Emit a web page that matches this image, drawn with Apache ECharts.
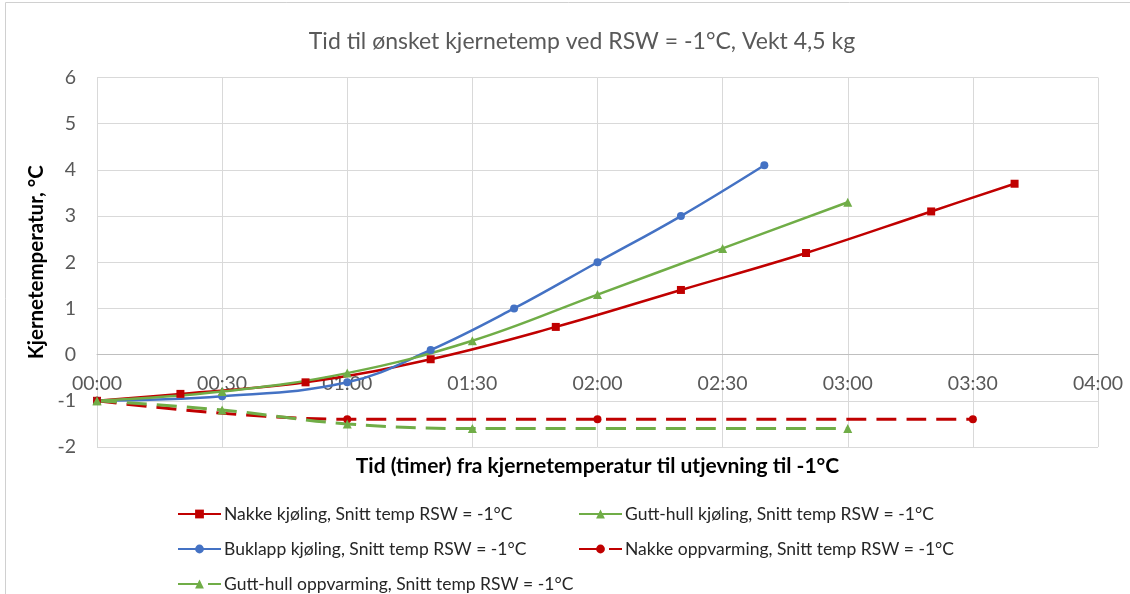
<!DOCTYPE html>
<html>
<head>
<meta charset="utf-8">
<script src="https://cdn.jsdelivr.net/npm/echarts@6/dist/echarts.min.js"></script>
<style>html,body{margin:0;padding:0;background:#fff}#c{width:1130px;height:594px}</style>
</head>
<body>
<div id="c"></div>
<script>
// Time in minutes, temperature in °C
const nakkeKjolingX = [0, 20, 50, 80, 110, 140, 170, 200, 220];
const nakkeKjolingY = [-1, -0.85, -0.6, -0.1, 0.6, 1.4, 2.2, 3.1, 3.7];
const buklappKjolingX = [0, 30, 60, 80, 100, 120, 140, 160];
const buklappKjolingY = [-1, -0.9, -0.6, 0.1, 1.0, 2.0, 3.0, 4.1];
const gutthullKjolingX = [0, 30, 60, 90, 120, 150, 180];
const gutthullKjolingY = [-1, -0.8, -0.4, 0.3, 1.3, 2.3, 3.3];
const nakkeOppX = [0, 60, 120, 210];
const nakkeOppY = [-1, -1.4, -1.4, -1.4];
const gutthullOppX = [0, 30, 60, 90, 180];
const gutthullOppY = [-1, -1.2, -1.5, -1.6, -1.6];
const seriesNames = [
  'Nakke kjøling, Snitt temp RSW = -1°C',
  'Gutt-hull kjøling, Snitt temp RSW = -1°C',
  'Buklapp kjøling, Snitt temp RSW = -1°C',
  'Nakke oppvarming, Snitt temp RSW = -1°C',
  'Gutt-hull oppvarming, Snitt temp RSW = -1°C'
];
const titleText = 'Tid til ønsket kjernetemp ved RSW = -1°C, Vekt 4,5 kg';
const xName = 'Tid (timer) fra kjernetemperatur til utjevning til -1°C';
const yName = 'Kjernetemperatur, °C';

const zip = (xs, ys) => xs.map((x, i) => [x, ys[i]]);
const FONT = 'Lato';
const RED = '#C00000', BLUE = '#4472C4', GREEN = '#70AD47';
function pad(n){ return (n < 10 ? '0' : '') + n; }

const chart = echarts.init(document.getElementById('c'));
function mk(name, data, color, symbol, size, dashed){
  return {
    name, type: 'line', data, smooth: 0.4,
    symbol, symbolSize: size, showSymbol: true,
    itemStyle: { color },
    lineStyle: { color, width: dashed ? 3 : 2.5, type: dashed ? [20, 10] : 'solid' },
    emphasis: { disabled: true },
    animation: false
  };
}
// legend positions: [name index, left, centerY]
const legendPos = [[0, 177, 513], [2, 177, 548], [4, 177, 583], [1, 578, 513], [3, 578, 548]];
const legends = legendPos.map(([i, left, cy]) => ({
  left, top: cy - 8, padding: 0, orient: 'horizontal',
  itemWidth: 43, itemHeight: 11,
  data: [seriesNames[i]],
  textStyle: { fontFamily: FONT, fontSize: 17.5, color: '#262626', padding: [0, 0, 0, -2] }
}));

chart.setOption({
  backgroundColor: '#fff',
  animation: false,
  title: {
    text: titleText, left: 577, textAlign: 'center', top: 25,
    textStyle: { fontFamily: FONT, fontSize: 23, fontWeight: 'normal', color: '#595959' }
  },
  grid: { left: 97, right: 32, top: 77.5, bottom: 147 },
  legend: legends,
  xAxis: {
    type: 'value', min: 0, max: 240, interval: 30,
    offset: -92.7,
    name: xName, nameLocation: 'middle', nameGap: 101,
    nameTextStyle: { fontFamily: FONT, fontSize: 21, fontWeight: 'bold', color: '#000' },
    axisLine: { show: true, onZero: false, lineStyle: { color: '#bfbfbf', width: 1 } },
    axisTick: { show: false },
    axisLabel: {
      margin: 19, fontFamily: FONT, fontSize: 19.5, color: '#595959',
      formatter: v => pad(Math.floor(v / 60)) + ':' + pad(v % 60)
    },
    splitLine: { show: true, lineStyle: { color: '#d9d9d9', width: 1 } }
  },
  yAxis: {
    type: 'value', min: -2, max: 6, interval: 1,
    name: yName, nameLocation: 'middle', nameGap: 47, nameRotate: 90,
    nameTextStyle: { fontFamily: FONT, fontSize: 20.5, fontWeight: 'bold', color: '#000' },
    axisLine: { show: false, onZero: false },
    axisTick: { show: false },
    axisLabel: { margin: 21, fontFamily: FONT, fontSize: 19.5, color: '#595959' },
    splitLine: { show: true, lineStyle: { color: '#d9d9d9', width: 1 } }
  },
  graphic: [{
    type: 'rect', shape: { x: 5.5, y: 2.5, width: 1200, height: 700 },
    style: { fill: 'none', stroke: '#d0d0d0', lineWidth: 1 }, silent: true, z: -1
  }],
  series: [
    mk(seriesNames[0], zip(nakkeKjolingX, nakkeKjolingY), RED, 'rect', 8, false),
    mk(seriesNames[2], zip(buklappKjolingX, buklappKjolingY), BLUE, 'circle', 8, false),
    mk(seriesNames[1], zip(gutthullKjolingX, gutthullKjolingY), GREEN, 'triangle', 9, false),
    mk(seriesNames[3], zip(nakkeOppX, nakkeOppY), RED, 'circle', 8, true),
    mk(seriesNames[4], zip(gutthullOppX, gutthullOppY), GREEN, 'triangle', 9, true)
  ]
});
</script>
</body>
</html>
